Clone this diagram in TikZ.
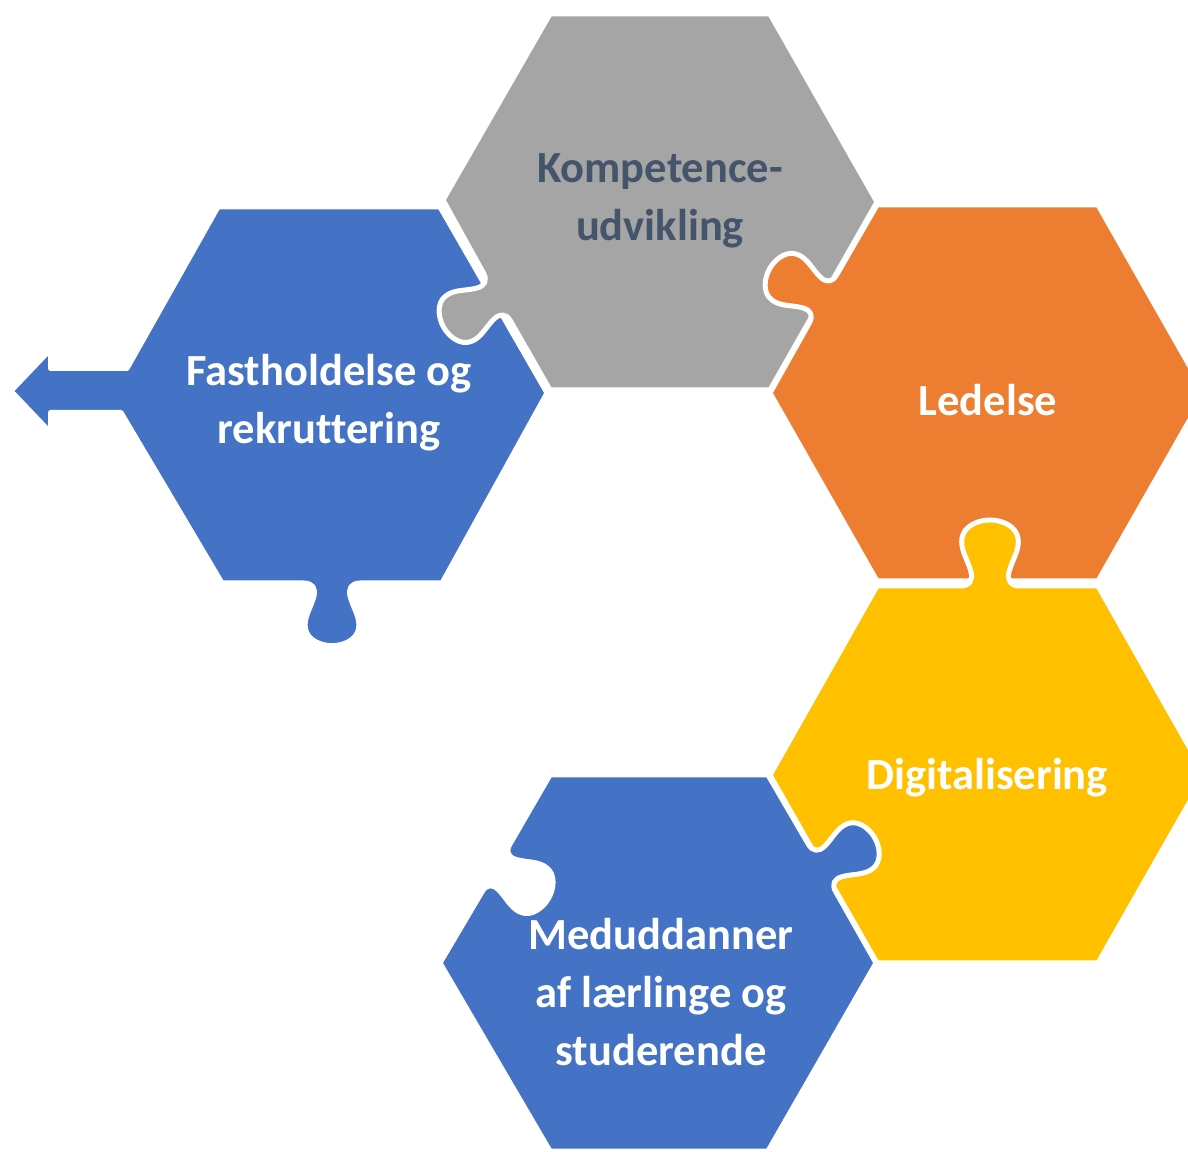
\documentclass[tikz,border=0pt]{standalone}
\usepackage{fontspec}
\setmainfont{Carlito}[Ligatures=NoCommon]
\definecolor{cblue}{HTML}{4472C4}
\definecolor{cgray}{HTML}{A5A5A5}
\definecolor{corange}{HTML}{ED7D31}
\definecolor{cyellow}{HTML}{FFC000}
\definecolor{cdark}{HTML}{44546A}
\tikzset{
  piece/.style={draw=white, line width=5pt, line join=round},
  kt/.style={},
  knob/.style n args={3}{kt/.style={shift={(#1)},rotate=#2,#3}, insert path={ -- ([kt]-30,0) .. controls ([kt]-20,0) and ([kt]-17,6) .. ([kt]-19,14) .. controls ([kt]-22,26) and ([kt]-30,36) .. ([kt]-28,48) .. controls ([kt]-26,60) and ([kt]-12,66) .. ([kt]0,66) .. controls ([kt]12,66) and ([kt]26,60) .. ([kt]28,48) .. controls ([kt]30,36) and ([kt]22,26) .. ([kt]19,14) .. controls ([kt]17,6) and ([kt]20,0) .. ([kt]30,0)}},
  lbl/.style={font=\bfseries\fontsize{44.5}{58}\selectfont, align=center, text=white, inner sep=0pt}
}
\begin{document}
\begin{tikzpicture}[x=1pt,y=1pt]
\useasboundingbox (0,0) rectangle (1188,1151);
\clip (0,0) rectangle (1188,1151);
% blue left piece with arrow
\path[piece, fill=cblue] (218,944) -- (440,944) -- (547,758) -- (442,568) [knob={332,568}{180}{scale=.95}] -- (222,568) -- (121,738.5) -- (50.5,738.5) -- (50.5,718.5) -- (11,760) -- (50.5,801.5) -- (50.5,782.5) -- (127,782.5) -- cycle;
% gray piece
\path[piece, fill=cgray] (550,1137) -- (770,1137) -- (877,949) -- (770,761) -- (550,761) [knob={497,854}{119.4}{scale=.93}] -- (443,951) -- cycle;
% orange piece
\path[piece, fill=corange] (877,946) -- (1098,946) -- (1205,758) -- (1098,570) -- (877,570) -- (770,758) [knob={823,852}{60.4}{scale=.93}] -- cycle;
% yellow piece
\path[piece, fill=cyellow] (877,565) [knob={990,565}{0}{}] -- (1098,565) -- (1205,376) -- (1098,188) -- (877,188) -- (770,376) -- cycle;
% blue bottom piece
\path[piece, fill=cblue] (550,376) -- (768,376) [knob={822,283}{-60.1}{scale=.92}] -- (876,188) -- (768,0) -- (550,0) -- (440,188) [knob={496,283}{59.7}{scale=.92,yscale=-1}] -- cycle;
% labels
\node[lbl, text=cdark] (komp) at (660,950) {Kompetence-\\udvikling};
\node[lbl] (fast) at (329,748) {Fastholdelse og\\rekruttering};
\node[lbl] (led) at (988,751) {Ledelse};
\node[lbl] (dig) at (987,373) {Digitalisering};
\node[lbl] (med) at (661,159) {Meduddanner\\af lærlinge og\\studerende};
\end{tikzpicture}
\end{document}
